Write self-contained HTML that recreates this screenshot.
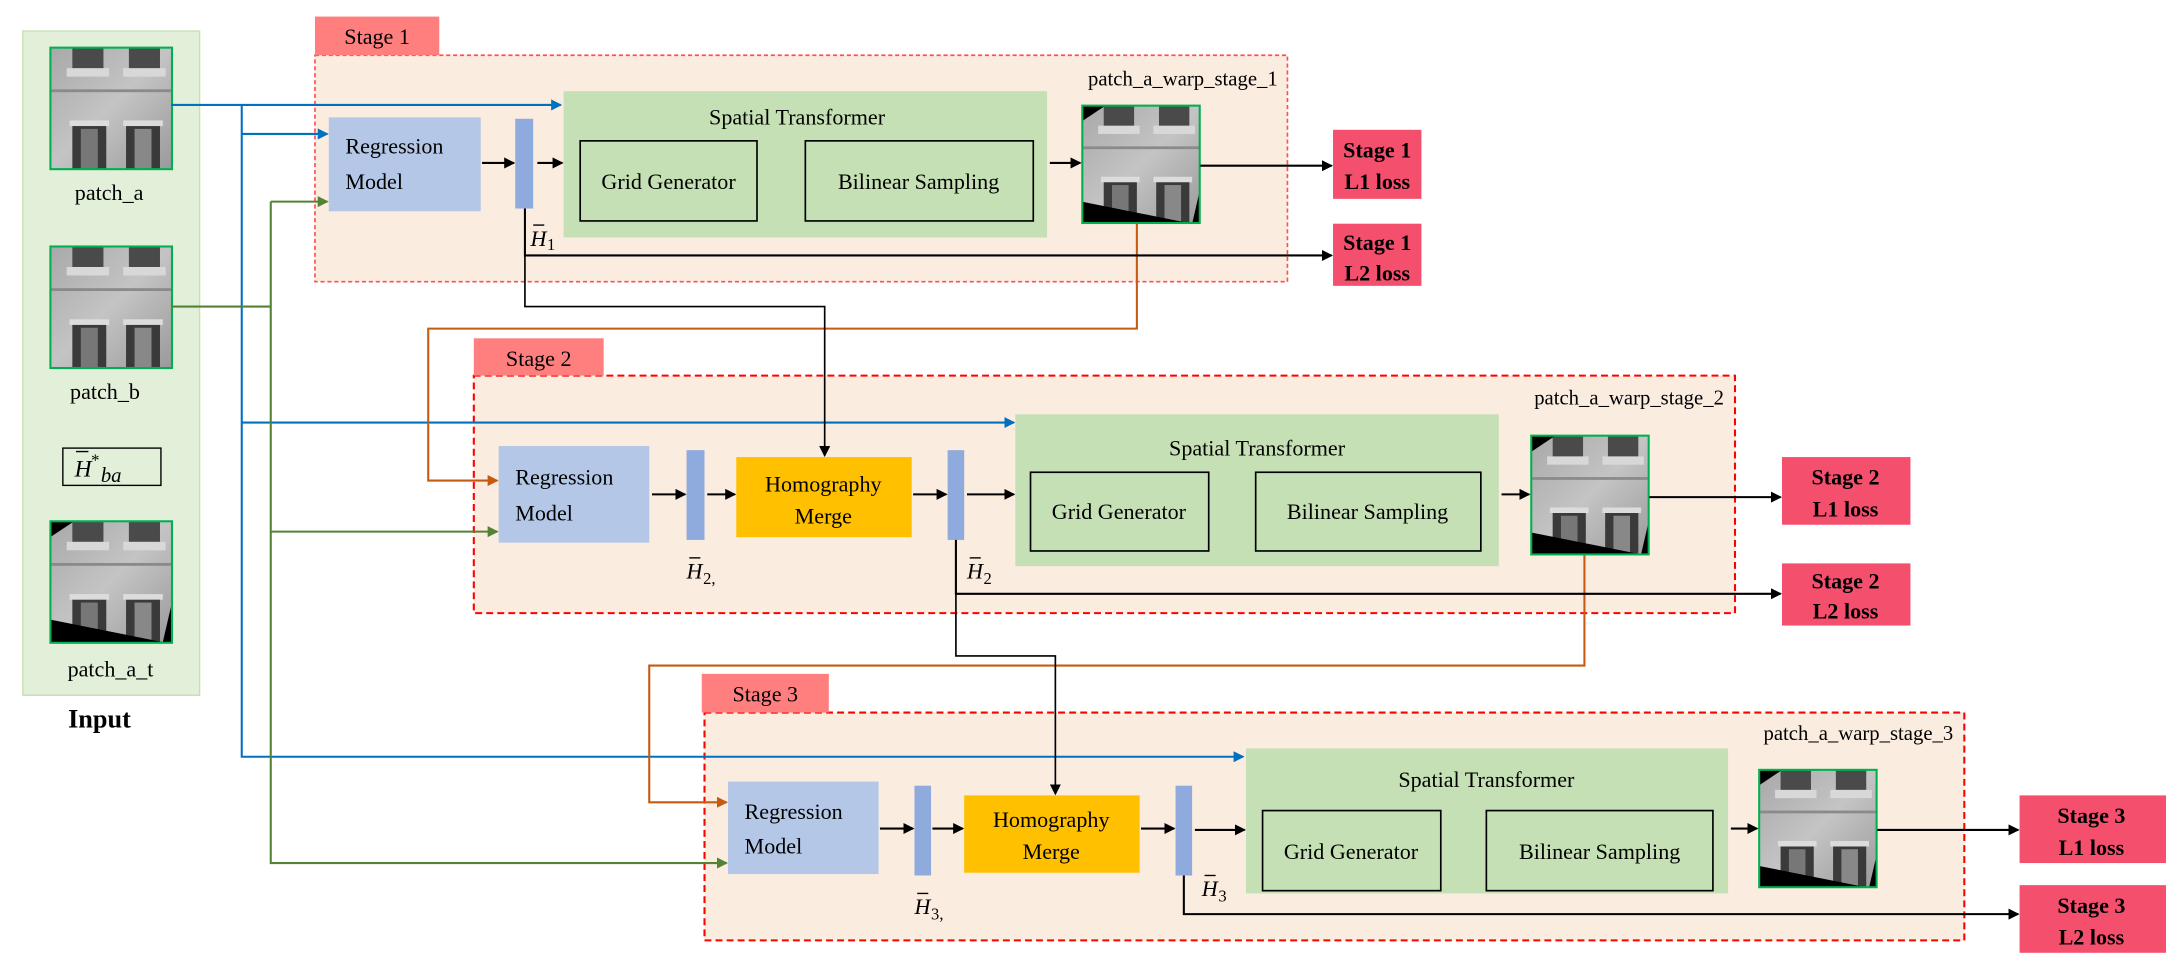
<!DOCTYPE html>
<html><head><meta charset="utf-8"><style>
html,body{margin:0;padding:0;background:#fff;}
svg{display:block;font-family:"Liberation Serif","Times New Roman",serif;}
svg text{font-family:"Liberation Serif","Times New Roman",serif;fill:#000;}
</style></head><body>
<svg width="2166" height="968" viewBox="0 0 1568 701" preserveAspectRatio="none" xmlns="http://www.w3.org/2000/svg" font-family="Liberation Serif, serif">
<defs>
<marker id="ak" markerWidth="8" markerHeight="8" refX="7" refY="4" orient="auto" markerUnits="userSpaceOnUse"><path d="M0,0 L8,4 L0,8 z" fill="#000"/></marker>
<marker id="ab" markerWidth="8" markerHeight="8" refX="7" refY="4" orient="auto" markerUnits="userSpaceOnUse"><path d="M0,0 L8,4 L0,8 z" fill="#0070c0"/></marker>
<marker id="ag" markerWidth="8" markerHeight="8" refX="7" refY="4" orient="auto" markerUnits="userSpaceOnUse"><path d="M0,0 L8,4 L0,8 z" fill="#548235"/></marker>
<marker id="ao" markerWidth="8" markerHeight="8" refX="7" refY="4" orient="auto" markerUnits="userSpaceOnUse"><path d="M0,0 L8,4 L0,8 z" fill="#c55a11"/></marker>
<linearGradient id="wall" x1="0" y1="0" x2="1" y2="1"><stop offset="0" stop-color="#a8a8a8"/><stop offset="0.5" stop-color="#c4c4c4"/><stop offset="1" stop-color="#9a9a9a"/></linearGradient>
<symbol id="bld" viewBox="0 0 86 86">
<rect width="86" height="86" fill="url(#wall)"/>
<rect x="16" y="0" width="22" height="16" fill="#4a4a4a"/><rect x="56" y="0" width="22" height="16" fill="#4a4a4a"/>
<rect x="12" y="15" width="30" height="6" fill="#d8d8d8"/><rect x="52" y="15" width="30" height="6" fill="#d8d8d8"/>
<rect x="0" y="30" width="86" height="2" fill="#8a8a8a"/>
<rect x="14" y="52" width="28" height="4" fill="#dcdcdc"/><rect x="52" y="52" width="28" height="4" fill="#dcdcdc"/>
<rect x="16" y="56" width="24" height="30" fill="#3a3a3a"/><rect x="54" y="56" width="24" height="30" fill="#3a3a3a"/>
<rect x="22" y="58" width="12" height="28" fill="#777"/><rect x="60" y="58" width="12" height="28" fill="#888"/>
</symbol>
<symbol id="wrp" viewBox="0 0 86 86">
<use href="#bld" width="86" height="86"/>
<polygon points="0,0 18,0 0,12" fill="#000"/>
<polygon points="0,70 0,86 80,86" fill="#000"/>
<polygon points="80,86 86,86 86,60" fill="#000"/>
</symbol>
</defs>

<!-- Input panel -->
<rect x="16.5" y="22.5" width="128" height="481" fill="#e2efd9" stroke="#c5e0b4"/>
<use href="#bld" x="36" y="34" width="88" height="88"/><rect x="36.5" y="34.5" width="88" height="88" fill="none" stroke="#00b050" stroke-width="1.5"/>
<text x="79" y="145" font-size="16" text-anchor="middle">patch_a</text>
<use href="#bld" x="36" y="178" width="88" height="88"/><rect x="36.5" y="178.5" width="88" height="88" fill="none" stroke="#00b050" stroke-width="1.5"/>
<text x="76" y="289" font-size="16" text-anchor="middle">patch_b</text>
<rect x="45.5" y="324.5" width="71" height="27" fill="none" stroke="#000" stroke-width="1"/>
<text x="54" y="345" font-size="17" font-style="italic">H</text><line x1="55" y1="327" x2="64" y2="327" stroke="#000"/>
<text x="66" y="337" font-size="12">*</text><text x="73" y="349" font-size="15" font-style="italic">ba</text>
<use href="#wrp" x="36" y="377" width="88" height="88"/><rect x="36.5" y="377.5" width="88" height="88" fill="none" stroke="#00b050" stroke-width="1.5"/>
<text x="80" y="490" font-size="16" text-anchor="middle">patch_a_t</text>
<text x="72" y="527" font-size="19" font-weight="bold" text-anchor="middle">Input</text>

<!-- Stage 1 -->
<rect x="228" y="40" width="704" height="164" fill="#fbece0" stroke="#ff5050" stroke-width="1.2" stroke-dasharray="3,2"/>
<rect x="228" y="12" width="90" height="28" fill="#ff7f7f"/>
<text x="273" y="32" font-size="16" text-anchor="middle">Stage 1</text>
<text x="925" y="62" font-size="15" text-anchor="end">patch_a_warp_stage_1</text>
<rect x="408" y="66" width="350" height="106" fill="#c5e0b4"/>
<text x="577" y="90" font-size="16" text-anchor="middle">Spatial Transformer</text>
<rect x="420" y="102" width="128" height="58" fill="none" stroke="#000" stroke-width="1.2"/>
<text x="484" y="137" font-size="16" text-anchor="middle">Grid Generator</text>
<rect x="583" y="102" width="165" height="58" fill="none" stroke="#000" stroke-width="1.2"/>
<text x="665" y="137" font-size="16" text-anchor="middle">Bilinear Sampling</text>
<rect x="238" y="85" width="110" height="68" fill="#b4c7e7"/>
<text x="250" y="111" font-size="16">Regression</text><text x="250" y="137" font-size="16">Model</text>
<rect x="373" y="86" width="13" height="65" fill="#8faadc"/>
<use href="#wrp" x="783" y="76" width="86" height="86"/><rect x="783.5" y="76.5" width="85" height="85" fill="none" stroke="#00b050" stroke-width="1.5"/>
<text x="384" y="178" font-size="16" font-style="italic">H</text><line x1="386" y1="163" x2="394" y2="163" stroke="#000"/><text x="396" y="181" font-size="12">1</text>
<rect x="965" y="94" width="64" height="50" fill="#f4506e"/>
<text x="997" y="114" font-size="16" font-weight="bold" text-anchor="middle">Stage 1</text><text x="997" y="137" font-size="16" font-weight="bold" text-anchor="middle">L1 loss</text>
<rect x="965" y="162" width="64" height="45" fill="#f4506e"/>
<text x="997" y="181" font-size="16" font-weight="bold" text-anchor="middle">Stage 1</text><text x="997" y="203" font-size="16" font-weight="bold" text-anchor="middle">L2 loss</text>

<!-- Stage 2 -->
<rect x="343" y="272" width="913" height="172" fill="#fbece0" stroke="#ff0000" stroke-width="1.5" stroke-dasharray="5,3"/>
<rect x="343" y="245" width="94" height="27" fill="#ff7f7f"/>
<text x="390" y="265" font-size="16" text-anchor="middle">Stage 2</text>
<text x="1248" y="293" font-size="15" text-anchor="end">patch_a_warp_stage_2</text>
<rect x="735" y="300" width="350" height="110" fill="#c5e0b4"/>
<text x="910" y="330" font-size="16" text-anchor="middle">Spatial Transformer</text>
<rect x="746" y="342" width="129" height="57" fill="none" stroke="#000" stroke-width="1.2"/>
<text x="810" y="376" font-size="16" text-anchor="middle">Grid Generator</text>
<rect x="909" y="342" width="163" height="57" fill="none" stroke="#000" stroke-width="1.2"/>
<text x="990" y="376" font-size="16" text-anchor="middle">Bilinear Sampling</text>
<rect x="361" y="323" width="109" height="70" fill="#b4c7e7"/>
<text x="373" y="351" font-size="16">Regression</text><text x="373" y="377" font-size="16">Model</text>
<rect x="497" y="326" width="13" height="65" fill="#8faadc"/>
<rect x="533" y="331" width="127" height="58" fill="#ffc000"/>
<text x="596" y="356" font-size="16" text-anchor="middle">Homography</text><text x="596" y="379" font-size="16" text-anchor="middle">Merge</text>
<rect x="686" y="326" width="12" height="65" fill="#8faadc"/>
<use href="#wrp" x="1108" y="315" width="86" height="87"/><rect x="1108.5" y="315.5" width="85" height="86" fill="none" stroke="#00b050" stroke-width="1.5"/>
<text x="497" y="419" font-size="16" font-style="italic">H</text><line x1="499" y1="404" x2="507" y2="404" stroke="#000"/><text x="509" y="423" font-size="12">2,</text>
<text x="700" y="419" font-size="16" font-style="italic">H</text><line x1="702" y1="404" x2="710" y2="404" stroke="#000"/><text x="712" y="423" font-size="12">2</text>
<rect x="1290" y="331" width="93" height="49" fill="#f4506e"/>
<text x="1336" y="351" font-size="16" font-weight="bold" text-anchor="middle">Stage 2</text><text x="1336" y="374" font-size="16" font-weight="bold" text-anchor="middle">L1 loss</text>
<rect x="1290" y="408" width="93" height="45" fill="#f4506e"/>
<text x="1336" y="426" font-size="16" font-weight="bold" text-anchor="middle">Stage 2</text><text x="1336" y="448" font-size="16" font-weight="bold" text-anchor="middle">L2 loss</text>

<!-- Stage 3 -->
<rect x="510" y="516" width="912" height="165" fill="#fbece0" stroke="#ff0000" stroke-width="1.5" stroke-dasharray="5,3"/>
<rect x="508" y="488" width="92" height="28" fill="#ff7f7f"/>
<text x="554" y="508" font-size="16" text-anchor="middle">Stage 3</text>
<text x="1414" y="536" font-size="15" text-anchor="end">patch_a_warp_stage_3</text>
<rect x="902" y="542" width="349" height="105" fill="#c5e0b4"/>
<text x="1076" y="570" font-size="16" text-anchor="middle">Spatial Transformer</text>
<rect x="914" y="587" width="129" height="58" fill="none" stroke="#000" stroke-width="1.2"/>
<text x="978" y="622" font-size="16" text-anchor="middle">Grid Generator</text>
<rect x="1076" y="587" width="164" height="58" fill="none" stroke="#000" stroke-width="1.2"/>
<text x="1158" y="622" font-size="16" text-anchor="middle">Bilinear Sampling</text>
<rect x="527" y="566" width="109" height="67" fill="#b4c7e7"/>
<text x="539" y="593" font-size="16">Regression</text><text x="539" y="618" font-size="16">Model</text>
<rect x="662" y="569" width="12" height="65" fill="#8faadc"/>
<rect x="698" y="576" width="127" height="56" fill="#ffc000"/>
<text x="761" y="599" font-size="16" text-anchor="middle">Homography</text><text x="761" y="622" font-size="16" text-anchor="middle">Merge</text>
<rect x="851" y="569" width="12" height="65" fill="#8faadc"/>
<use href="#wrp" x="1273" y="557" width="86" height="86"/><rect x="1273.5" y="557.5" width="85" height="85" fill="none" stroke="#00b050" stroke-width="1.5"/>
<text x="662" y="662" font-size="16" font-style="italic">H</text><line x1="664" y1="647" x2="672" y2="647" stroke="#000"/><text x="674" y="666" font-size="12">3,</text>
<text x="870" y="649" font-size="16" font-style="italic">H</text><line x1="872" y1="634" x2="880" y2="634" stroke="#000"/><text x="882" y="653" font-size="12">3</text>
<rect x="1462" y="576" width="106" height="49" fill="#f4506e"/>
<text x="1514" y="596" font-size="16" font-weight="bold" text-anchor="middle">Stage 3</text><text x="1514" y="619" font-size="16" font-weight="bold" text-anchor="middle">L1 loss</text>
<rect x="1462" y="641" width="106" height="49" fill="#f4506e"/>
<text x="1514" y="661" font-size="16" font-weight="bold" text-anchor="middle">Stage 3</text><text x="1514" y="684" font-size="16" font-weight="bold" text-anchor="middle">L2 loss</text>

<!-- Blue connectors -->
<g fill="none" stroke="#0070c0" stroke-width="1.5">
<path d="M124,76 H406" marker-end="url(#ab)"/>
<path d="M175,76 V548 H900" marker-end="url(#ab)"/>
<path d="M175,97 H237" marker-end="url(#ab)"/>
<path d="M175,306 H734" marker-end="url(#ab)"/>
</g>
<!-- Green connectors -->
<g fill="none" stroke="#548235" stroke-width="1.5">
<path d="M124,222 H196"/>
<path d="M196,146 V625 H526" marker-end="url(#ag)"/>
<path d="M196,146 H237" marker-end="url(#ag)"/>
<path d="M196,385 H360" marker-end="url(#ag)"/>
</g>
<!-- Orange connectors -->
<g fill="none" stroke="#c55a11" stroke-width="1.5">
<path d="M823,162 V238 H310 V348 H360" marker-end="url(#ao)"/>
<path d="M1147,402 V482 H470 V581 H526" marker-end="url(#ao)"/>
</g>
<!-- Black connectors -->
<g fill="none" stroke="#000" stroke-width="1.5">
<path d="M349,118 H372" marker-end="url(#ak)"/>
<path d="M389,118 H407" marker-end="url(#ak)"/>
<path d="M760,118 H782" marker-end="url(#ak)"/>
<path d="M869,120 H964" marker-end="url(#ak)"/>
<path d="M380,151 V185 H964" marker-end="url(#ak)"/>
<path d="M380,185 V222 H597 V330" marker-end="url(#ak)" stroke-width="1.2"/>
<path d="M472,358 H496" marker-end="url(#ak)"/>
<path d="M512,358 H532" marker-end="url(#ak)"/>
<path d="M661,358 H685" marker-end="url(#ak)"/>
<path d="M700,358 H734" marker-end="url(#ak)"/>
<path d="M1087,358 H1107" marker-end="url(#ak)"/>
<path d="M1194,360 H1289" marker-end="url(#ak)"/>
<path d="M692,391 V430 H1289" marker-end="url(#ak)"/>
<path d="M692,430 V475 H764 V575" marker-end="url(#ak)" stroke-width="1.2"/>
<path d="M637,600 H661" marker-end="url(#ak)"/>
<path d="M675,600 H697" marker-end="url(#ak)"/>
<path d="M826,600 H850" marker-end="url(#ak)"/>
<path d="M865,601 H901" marker-end="url(#ak)"/>
<path d="M1253,600 H1272" marker-end="url(#ak)"/>
<path d="M1359,601 H1461" marker-end="url(#ak)"/>
<path d="M857,634 V662 H1461" marker-end="url(#ak)"/>
</g>
</svg>
</body></html>
